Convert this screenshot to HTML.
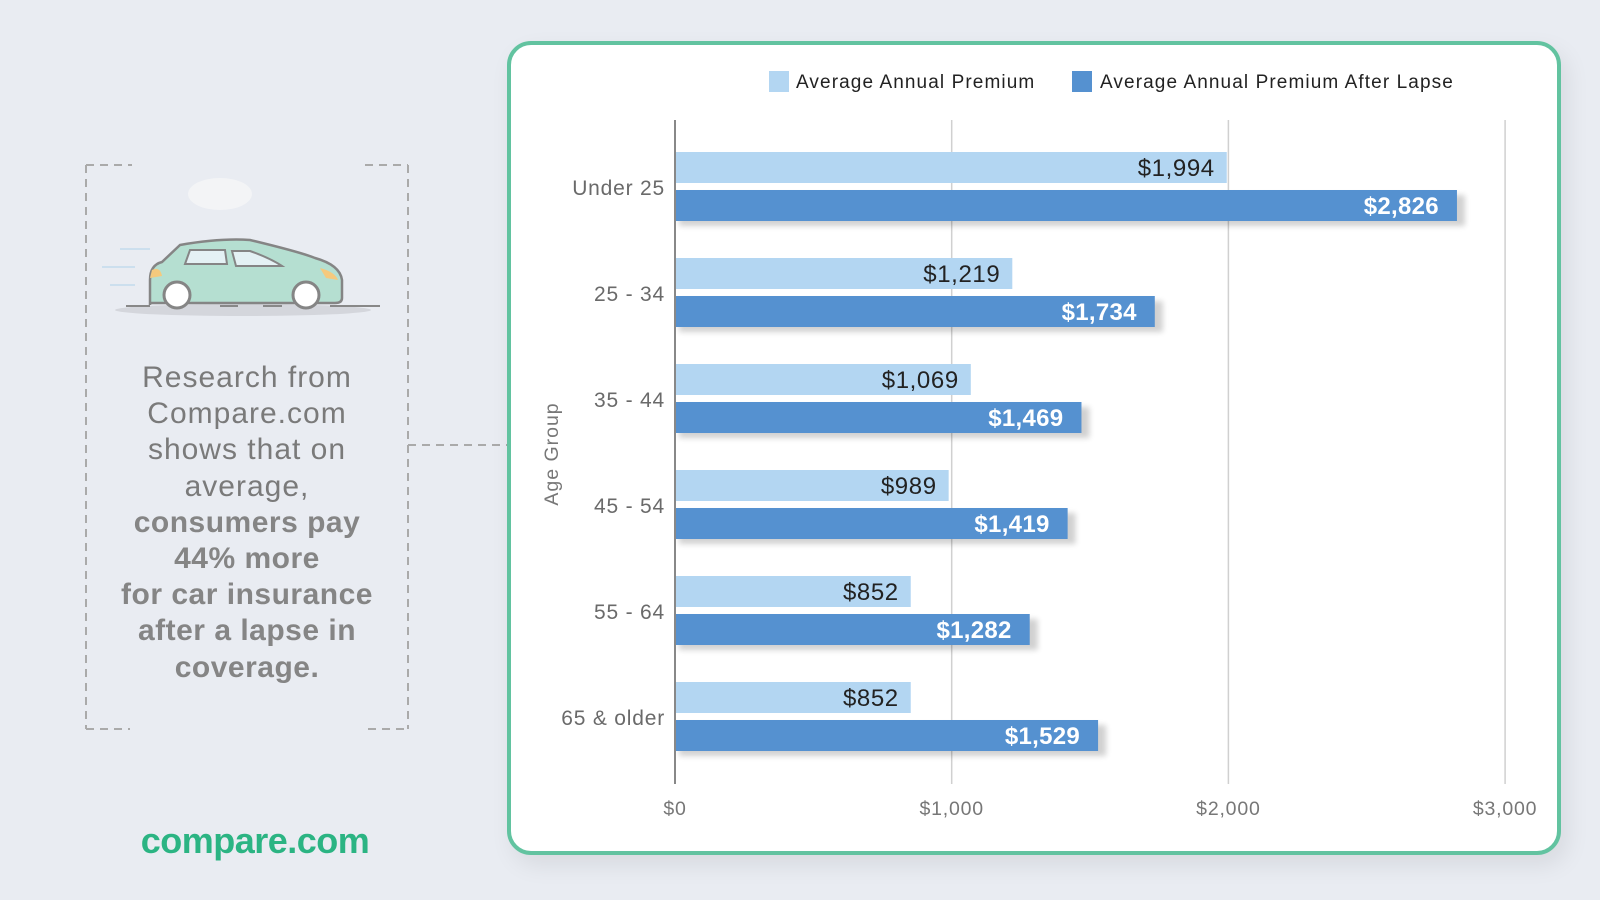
<!DOCTYPE html>
<html><head><meta charset="utf-8">
<style>
html,body{margin:0;padding:0}
body{width:1600px;height:900px;background:#e9ecf2;position:relative;overflow:hidden;font-family:"Liberation Sans",sans-serif}
.card{position:absolute;left:507px;top:41px;width:1046px;height:806px;border:4px solid #62c3a0;border-radius:24px;background:#fff;box-shadow:6px 10px 24px rgba(0,0,0,0.08)}
.blurb{position:absolute;left:86px;top:360px;width:322px;text-align:center;font-size:30px;line-height:36.2px;color:#7a7a7a;letter-spacing:1px}
.blurb b{color:#858585;letter-spacing:0.5px}
.logo{position:absolute;left:130px;top:820px;width:250px;text-align:center;font-size:36px;color:#2bb483;font-weight:bold;letter-spacing:-0.5px}
</style></head><body>
<svg width="1600" height="900" style="position:absolute;left:0;top:0">
  <g stroke="#aaa" stroke-width="2" stroke-dasharray="8,6" fill="none">
    <path d="M86 165 H132 M365 165 H408 M86 729 H130 M368 729 H408 M86 165 V729 M408 165 V729"/>
    <path d="M408 445 H507"/>
  </g>
  <g>
    <ellipse cx="220" cy="194" rx="32" ry="16" fill="#f3f4f6"/>
    <ellipse cx="243" cy="310" rx="128" ry="6" fill="#d4d6dc"/>
    <path d="M150 305 V280 Q150 265 162 262 L180 245 Q220 238 250 240 Q300 252 315 258 Q340 265 342 280 V298 Q342 303 335 303 H150 Z" fill="#b5dfd1" stroke="#858585" stroke-width="2.5"/>
    <path d="M185 264 L190 250 H225 L227 264 Z M232 251 H250 Q270 258 282 266 H236 Z" fill="#e4f1f4" stroke="#858585" stroke-width="2"/>
    <path d="M320 268 Q335 272 338 280 L326 278 Z" fill="#f5c97d"/>
    <path d="M152 270 Q160 266 162 276 L150 278 Z" fill="#f5c97d"/>
    <g fill="#fff" stroke="#858585" stroke-width="3"><circle cx="177" cy="295" r="13"/><circle cx="306" cy="295" r="13"/></g>
    <g stroke="#ccdfee" stroke-width="2"><path d="M120 249 H150 M102 267 H135 M110 285 H135"/></g>
    <g stroke="#888" stroke-width="2"><path d="M126 306 H150 M220 306 H238 M263 306 H282 M330 306 H380"/></g>
  </g>
</svg>
<div class="blurb">Research from<br>Compare.com<br>shows that on<br>average,<br><b>consumers pay<br>44% more<br>for car insurance<br>after a lapse in<br>coverage.</b></div>
<div class="logo">compare.com</div>
<div class="card"></div>
<svg id="chart" width="1600" height="900" style="position:absolute;left:0;top:0">
<defs><filter id="sh" x="-5%" y="-50%" width="110%" height="200%"><feGaussianBlur stdDeviation="3"/></filter></defs>
</svg>
<script>
const categories=["Under 25","25 - 34","35 - 44","45 - 54","55 - 64","65 & older"];
const seriesBefore=[1994,1219,1069,989,852,852];
const seriesAfter=[2826,1734,1469,1419,1282,1529];
const ticks=[0,1000,2000,3000];
const tickLabels=["$0","$1,000","$2,000","$3,000"];
const seriesNames=["Average Annual Premium","Average Annual Premium After Lapse"];
const NS="http://www.w3.org/2000/svg";
const svg=document.getElementById("chart");
const X0=675,PX=276.7/1000,TOP=120,BOT=784;
const xs=v=>X0+v*PX;
const yBand=i=>152+i*106;
function el(t,a,txt){const e=document.createElementNS(NS,t);for(const k in a)e.setAttribute(k,a[k]);if(txt!==undefined)e.textContent=txt;svg.appendChild(e);return e;}
const fmt=v=>"$"+v.toLocaleString("en-US");
ticks.forEach((t,i)=>{
  if(i>0){const g=el("line",{x1:xs(t),x2:xs(t),y1:TOP,y2:BOT,stroke:"#d0d0d0","stroke-width":1.5});
  
  }
  const l=el("text",{x:xs(t),y:815,"text-anchor":"middle","font-size":19.5,fill:"#777","letter-spacing":0.8},tickLabels[i]);
  
  
});
categories.forEach((c,i)=>{
  const y=yBand(i);
  const s1=el("rect",{x:xs(0)+4,y:y+43,width:xs(seriesAfter[i])-xs(0)+4,height:31,fill:"#000",opacity:0.18,filter:"url(#sh)"});
  
  
  const b1=el("rect",{x:xs(0),y:y,width:xs(seriesBefore[i])-xs(0),height:31,fill:"#b3d6f2"});
  
  
  const b2=el("rect",{x:xs(0),y:y+38,width:xs(seriesAfter[i])-xs(0),height:31,fill:"#5591d0"});
  
  
  const t1=el("text",{x:xs(seriesBefore[i])-12,y:y+24,"text-anchor":"end","font-size":24,fill:"#222","letter-spacing":0.6},fmt(seriesBefore[i]));
  
  
  const t2=el("text",{x:xs(seriesAfter[i])-18,y:y+62,"text-anchor":"end","font-size":24,"font-weight":"bold",fill:"#fff","letter-spacing":0.3},fmt(seriesAfter[i]));
  
  
  const cl=el("text",{x:665,y:y+43,"text-anchor":"end","font-size":21,fill:"#6a6a6a","letter-spacing":0.8},c);
  
  
});
const ax=el("line",{x1:X0,x2:X0,y1:TOP,y2:BOT,stroke:"#888","stroke-width":2});


const at=el("text",{x:0,y:0,transform:"translate(558,454) rotate(-90)","text-anchor":"middle","font-size":19.5,fill:"#777","letter-spacing":1},"Age Group");


[[769,796,"#b3d6f2"],[1072,1100,"#5591d0"]].forEach((p,i)=>{
  const sq=el("rect",{x:p[0],y:71,width:20,height:21,fill:p[2]});
  
  
  const lt=el("text",{x:p[1],y:88,"font-size":19,fill:"#222","letter-spacing":1.1},seriesNames[i]);
  
  
});
</script>
</body></html>
